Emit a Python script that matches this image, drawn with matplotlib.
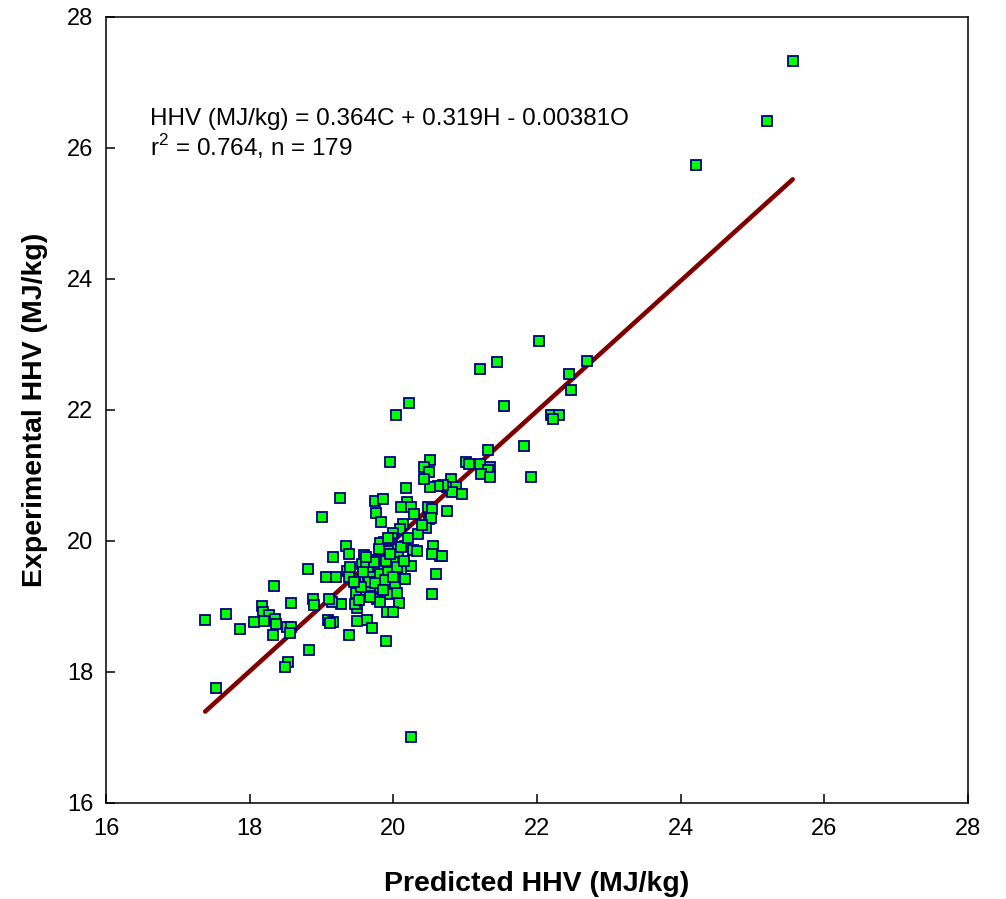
import numpy as np
import matplotlib
matplotlib.use('Agg')
import matplotlib.pyplot as plt

# ---------------------------------------------------------------------------
# Data (predicted vs experimental HHV, MJ/kg)
# ---------------------------------------------------------------------------
predicted = [
    25.56, 25.20, 24.22, 22.69, 22.03, 21.45, 21.20, 22.45, 22.47, 20.22,
    20.03, 21.54, 22.19, 22.30, 22.22, 21.32, 21.82, 21.91, 21.01, 21.05,
    21.20, 21.34, 21.32, 21.22, 21.35, 20.80, 20.75, 20.87, 20.81, 20.95,
    20.69, 20.62, 20.51, 20.75, 20.65, 19.95, 20.51, 20.42, 20.50, 20.43,
    20.18, 19.26, 19.74, 19.86, 20.19, 20.10, 20.25, 20.29, 20.48, 20.54,
    19.76, 19.83, 20.49, 20.52, 20.13, 20.45, 20.09, 20.00, 19.98, 19.87,
    19.81, 19.96, 20.16, 20.28, 20.33, 20.55, 20.54, 20.68, 19.34, 19.38,
    19.16, 19.59, 19.86, 20.02, 19.92, 20.06, 20.00, 19.84, 19.70, 19.57,
    19.62, 19.73, 19.84, 19.95, 20.24, 20.10, 20.12, 20.16, 20.59, 19.35,
    19.20, 19.38, 19.60, 19.65, 19.72, 19.74, 19.86, 19.95, 19.98, 19.79,
    19.85, 20.02, 19.61, 19.48, 19.68, 20.54, 19.95, 19.77, 19.81, 20.08,
    19.91, 19.99, 19.49, 19.46, 19.27, 19.15, 19.49, 19.64, 19.70, 19.09,
    19.16, 19.12, 19.38, 19.90, 19.01, 18.81, 19.06, 18.34, 18.57, 18.88,
    18.89, 19.10, 18.17, 18.19, 18.27, 18.20, 18.06, 18.35, 18.37, 18.52,
    18.58, 18.56, 17.38, 17.67, 17.87, 18.32, 18.83, 18.54, 18.49, 17.53,
    20.25,
    # overlapping markers in the dense core
    19.70, 19.78, 19.90, 19.82, 19.66, 19.92, 20.05, 19.88, 19.75, 19.58,
    20.00, 19.95, 20.10, 19.86, 19.73, 19.55, 20.15, 19.80, 19.62, 20.20,
    19.93, 19.45, 19.52, 20.05, 19.68, 20.35, 20.40, 19.40,
]

experimental = [
    27.33, 26.41, 25.73, 22.75, 23.05, 22.73, 22.62, 22.54, 22.31, 22.10,
    21.92, 22.06, 21.92, 21.92, 21.86, 21.39, 21.45, 20.98, 21.20, 21.17,
    21.17, 21.13, 21.08, 21.02, 20.98, 20.94, 20.83, 20.82, 20.75, 20.72,
    20.86, 20.84, 20.82, 20.45, 19.77, 21.20, 21.23, 21.13, 21.05, 20.95,
    20.80, 20.66, 20.61, 20.64, 20.60, 20.51, 20.52, 20.41, 20.52, 20.49,
    20.42, 20.29, 20.33, 20.35, 20.26, 20.19, 20.18, 20.12, 20.04, 19.98,
    19.97, 19.97, 19.92, 19.86, 19.84, 19.92, 19.80, 19.77, 19.92, 19.80,
    19.76, 19.78, 19.86, 19.88, 19.85, 19.76, 19.68, 19.71, 19.71, 19.64,
    19.61, 19.56, 19.57, 19.58, 19.62, 19.56, 19.42, 19.42, 19.50, 19.54,
    19.45, 19.45, 19.45, 19.45, 19.52, 19.40, 19.39, 19.49, 19.36, 19.30,
    19.30, 19.29, 19.25, 19.20, 19.31, 19.19, 19.19, 19.11, 19.06, 19.05,
    18.92, 18.92, 18.97, 19.04, 19.03, 19.07, 18.78, 18.79, 18.67, 18.79,
    18.76, 18.74, 18.56, 18.47, 20.36, 19.57, 19.45, 19.31, 19.05, 19.11,
    19.02, 19.11, 19.00, 18.91, 18.87, 18.78, 18.76, 18.81, 18.73, 18.69,
    18.69, 18.59, 18.79, 18.89, 18.65, 18.56, 18.34, 18.15, 18.08, 17.76,
    17.00,
    19.45, 19.62, 19.70, 19.50, 19.38, 19.52, 19.60, 19.40, 19.35, 19.52,
    19.45, 19.80, 19.90, 19.25, 19.68, 19.30, 19.70, 19.88, 19.75, 20.05,
    20.05, 19.38, 19.10, 19.20, 19.15, 20.10, 20.25, 19.60,
]

# regression line (slope, intercept) as drawn on the reference
fit_coef = [0.993, 0.137]

equation_text = "HHV (MJ/kg) = 0.364C + 0.319H - 0.00381O"
stats_text = r"r$^{\mathregular{2}}$ = 0.764, n = 179"

ticks = [16, 18, 20, 22, 24, 26, 28]

plt.rcParams['font.family'] = ['Liberation Sans', 'DejaVu Sans']
plt.rcParams['mathtext.fontset'] = 'custom'
plt.rcParams['mathtext.rm'] = 'Liberation Sans'

fig = plt.figure(figsize=(10.06, 8.99), dpi=100)
ax = fig.add_axes([0.1054, 0.1068, 0.8568, 0.8746])

x = np.array(predicted)
y = np.array(experimental)

line_x = np.array([x.min(), x.max()])
line_y = np.polyval(fit_coef, line_x)
ax.plot(line_x, line_y, color='#800000', linewidth=3.3, solid_capstyle='round', zorder=2)

ax.plot(x, y, linestyle='none', marker='s', markersize=7.2,
        markerfacecolor='#00FF00', markeredgecolor='#000080',
        markeredgewidth=1.3, zorder=3)

ax.set_xlim(16, 28)
ax.set_ylim(16, 28)
ax.set_xticks(ticks)
ax.set_yticks(ticks)
ax.tick_params(axis='both', direction='in', length=6.5, width=1.1,
               labelsize=17, top=False, right=False)
ax.tick_params(axis='x', pad=11)
ax.tick_params(axis='y', pad=9)
for sp in ax.spines.values():
    sp.set_linewidth(1.1)

ax.set_xlabel('Predicted HHV (MJ/kg)', fontsize=20.5, fontweight='bold', labelpad=22)
ax.set_ylabel('Experimental HHV (MJ/kg)', fontsize=20.5, fontweight='bold', labelpad=14)

ax.text(16.61, 26.34, equation_text, fontsize=17.5, va='baseline', ha='left')
ax.text(16.61, 25.87, stats_text, fontsize=17.5, va='baseline', ha='left')

fig.savefig('out.png', dpi=100)
